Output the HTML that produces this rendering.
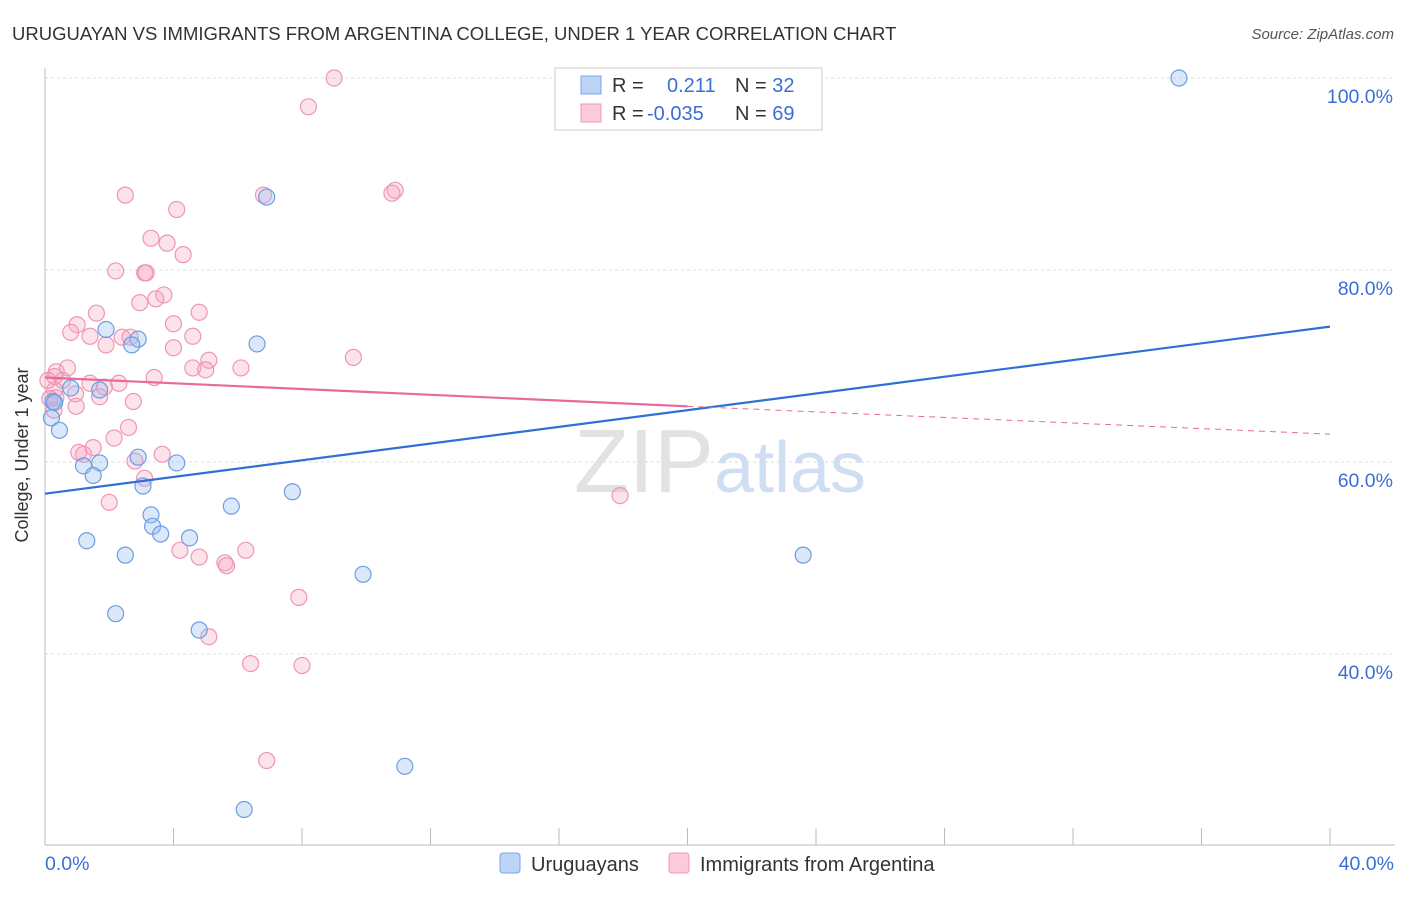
<!DOCTYPE html>
<html><head><meta charset="utf-8"><style>
body{margin:0;background:#fff;font-family:"Liberation Sans",sans-serif}
svg text{font-family:"Liberation Sans",sans-serif}
</style></head><body>
<svg width="1406" height="892">
<text x="12" y="40" font-size="18.5" fill="#333">URUGUAYAN VS IMMIGRANTS FROM ARGENTINA COLLEGE, UNDER 1 YEAR CORRELATION CHART</text>
<text x="1394" y="39" font-size="15" fill="#555" text-anchor="end" font-style="italic">Source: ZipAtlas.com</text>
<g id="grid"></g>
<text x="720" y="492" font-size="90" fill="#e2e2e2" text-anchor="middle" font-family="Liberation Serif">ZIP<tspan fill="#d0def3" font-family="Liberation Sans" font-size="72">atlas</tspan></text>
<g id="pts"></g>
<g id="lines"></g>
<text x="28" y="455" font-size="18" fill="#333" text-anchor="middle" transform="rotate(-90 28 455)">College, Under 1 year</text>
<text x="45" y="870" font-size="19.5" fill="#3a6fd8">0.0%</text>
<text x="1394" y="870" font-size="19.5" fill="#3a6fd8" text-anchor="end">40.0%</text>
<g>
<rect x="555" y="68" width="267" height="62" fill="#fff" stroke="#ccc"/>
<rect x="581" y="76" width="20" height="18" fill="#bcd4f5" stroke="#7aa5e8"/>
<rect x="581" y="104" width="20" height="18" fill="#fbcadb" stroke="#f095b5"/>
<text x="612" y="92" font-size="20" fill="#333">R = <tspan fill="#3a6fd8" x="667">0.211</tspan><tspan x="735" fill="#333">N = </tspan><tspan fill="#3a6fd8">32</tspan></text>
<text x="612" y="120" font-size="20" fill="#333">R = <tspan fill="#3a6fd8" x="647">-0.035</tspan><tspan x="735" fill="#333">N = </tspan><tspan fill="#3a6fd8">69</tspan></text>
</g>
<g>
<rect x="500" y="853" width="20" height="20" rx="3" fill="#bcd4f5" stroke="#7aa5e8"/>
<text x="531" y="871" font-size="20" fill="#333">Uruguayans</text>
<rect x="669" y="853" width="20" height="20" rx="3" fill="#fbcadb" stroke="#f095b5"/>
<text x="700" y="871" font-size="20" fill="#333">Immigrants from Argentina</text>
</g>
</svg>
<script>
const yTicks=[40,60,80,100];
const xTicks=[0,4,8,12,16,20,24,28,32,36,40];
const blueX=[35.3,6.9,1.9,2.9,2.7,6.6,0.8,1.7,0.25,0.2,0.45,1.2,1.7,1.5,2.9,4.1,3.05,3.3,3.35,3.6,4.5,5.8,7.7,1.3,2.5,9.9,2.2,4.8,11.2,6.2,23.6,0.3];
const blueY=[100,87.6,73.8,72.8,72.2,72.3,67.7,67.5,66.3,64.6,63.3,59.6,59.9,58.6,60.5,59.9,57.5,54.5,53.3,52.5,52.1,55.4,56.9,51.8,50.3,48.3,44.2,42.5,28.3,23.8,50.3,66.2];
const pinkX=[9,8.2,2.5,6.8,10.9,10.8,4.1,3.3,3.8,4.3,2.2,3.1,3.15,1.6,2.95,3.45,3.7,4.8,1.0,0.8,4,1.4,2.4,2.65,1.9,4,4.6,5.1,4.6,5,6.1,9.6,0.7,0.35,0.3,3.4,1.4,2.3,1.85,0.55,0.3,1.7,0.95,2.75,0.15,0.28,0.97,2.6,2.15,1.5,1.2,1.05,2.8,3.65,3.1,2,17.9,4.2,4.8,5.6,5.65,6.25,7.9,5.1,6.4,8,6.9,0.34,0.09];
const pinkY=[100,97,87.8,87.8,88.3,88,86.3,83.3,82.8,81.6,79.9,79.7,79.7,75.5,76.6,77,77.4,75.6,74.3,73.5,74.4,73.1,73,73,72.2,71.9,73.1,70.6,69.8,69.6,69.8,70.9,69.8,69.4,68.9,68.8,68.2,68.2,67.8,68.5,67.5,66.8,67.1,66.3,66.6,65.4,65.8,63.6,62.5,61.5,60.8,61,60.1,60.8,58.3,55.8,56.5,50.8,50.1,49.5,49.2,50.8,45.9,41.8,39,38.8,28.9,66.7,68.5];
const X=v=>45+v/40*1285, Y=v=>78+(100-v)*9.6;
const ns="http://www.w3.org/2000/svg";
function mk(t,a,p){const e=document.createElementNS(ns,t);for(const k in a)e.setAttribute(k,a[k]);p.appendChild(e);return e;}
const g=document.getElementById('grid');
mk('line',{x1:45,y1:845,x2:1395,y2:845,stroke:'#bbb'},g);
mk('line',{x1:45,y1:68,x2:45,y2:845,stroke:'#bbb'},g);
yTicks.forEach(t=>{const l=mk('line',{x1:45,y1:Y(t),x2:1395,y2:Y(t),stroke:'#ddd','stroke-dasharray':'3,3'},g);


const tx=mk('text',{x:1393,y:Y(t)+25,'font-size':19.5,fill:'#3a6fd8','text-anchor':'end'},g);tx.textContent=t.toFixed(1)+'%';

});
xTicks.forEach(t=>{const l=mk('line',{x1:X(t),y1:828,x2:X(t),y2:845,stroke:'#bbb'},g);

});
const p=document.getElementById('pts');
pinkX.forEach((x,i)=>{const c=mk('circle',{cx:X(x),cy:Y(pinkY[i]),r:8,fill:'rgba(246,160,190,0.3)',stroke:'#f095b5','stroke-width':1.2},p);

});
blueX.forEach((x,i)=>{const c=mk('circle',{cx:X(x),cy:Y(blueY[i]),r:8,fill:'rgba(150,190,240,0.35)',stroke:'#6e9de0','stroke-width':1.2},p);

});
const L=document.getElementById('lines');
let e=mk('line',{x1:X(0),y1:Y(56.7),x2:X(40),y2:Y(74.1),stroke:'#2f6fd6','stroke-width':2.2},L);


e=mk('line',{x1:X(0),y1:Y(68.8),x2:X(20),y2:Y(65.8),stroke:'#e8699a','stroke-width':2.2},L);


e=mk('line',{x1:X(20),y1:Y(65.8),x2:X(40),y2:Y(62.9),stroke:'#e8699a','stroke-width':1,'stroke-dasharray':'6,5'},L);


</script>
</body></html>
